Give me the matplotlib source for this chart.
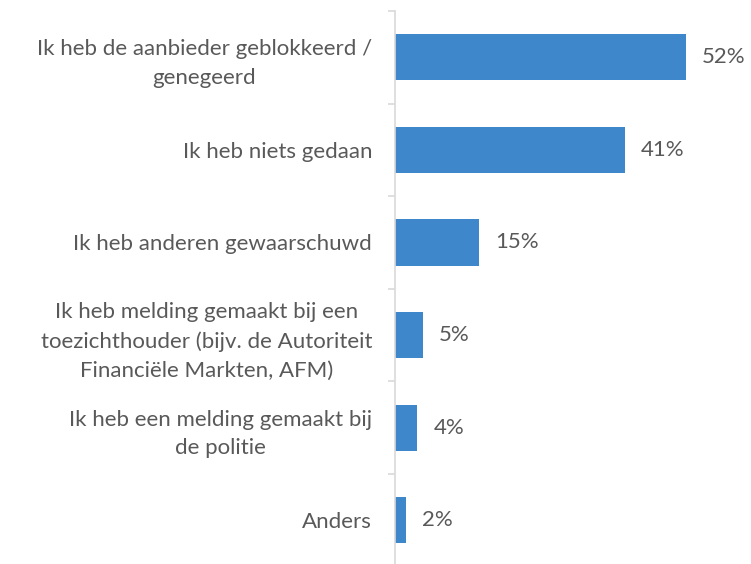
import numpy as np
import matplotlib.pyplot as plt

plt.rcParams['font.family'] = ['Lato', 'DejaVu Sans']

categories = [
    "Ik heb de aanbieder geblokkeerd /\ngenegeerd",
    "Ik heb niets gedaan",
    "Ik heb anderen gewaarschuwd",
    "Ik heb melding gemaakt bij een\ntoezichthouder (bijv. de Autoriteit\nFinanciële Markten, AFM)",
    "Ik heb een melding gemaakt bij\nde politie",
    "Anders",
]
values = [52, 41, 15, 5, 4, 2]

bar_color = '#3E87CA'
text_color = '#595959'
axis_color = '#D9D9D9'

fig = plt.figure(figsize=(7.51, 5.64), dpi=100)
# axes runs a little past the bottom edge of the figure
ax = fig.add_axes([395 / 751, 1 - 566.6 / 564, 336 / 751, 555.6 / 564])

y = np.arange(len(categories))
ax.barh(y, values, height=0.5, color=bar_color)
ax.set_ylim(len(categories) - 0.5, -0.5)
ax.set_xlim(0, 60)

for yi, v in zip(y, values):
    ax.text(v + 2.85, yi, f"{v}%", va='center', ha='left',
            fontsize=16, color=text_color)

ax.set_yticks(y)
ax.set_yticklabels(categories, fontsize=16, color=text_color,
                   linespacing=1.55, ha='right', multialignment='center')
ax.tick_params(axis='y', length=0, pad=16.5)
ax.set_yticks(np.arange(-0.5, len(categories), 1), minor=True)
ax.tick_params(axis='y', which='minor', length=5, width=1.2, color=axis_color)

ax.set_xticks([])
for side in ['top', 'right', 'bottom']:
    ax.spines[side].set_visible(False)
ax.spines['left'].set_color(axis_color)
ax.spines['left'].set_linewidth(1.2)

fig.savefig("out.png", dpi=100)
